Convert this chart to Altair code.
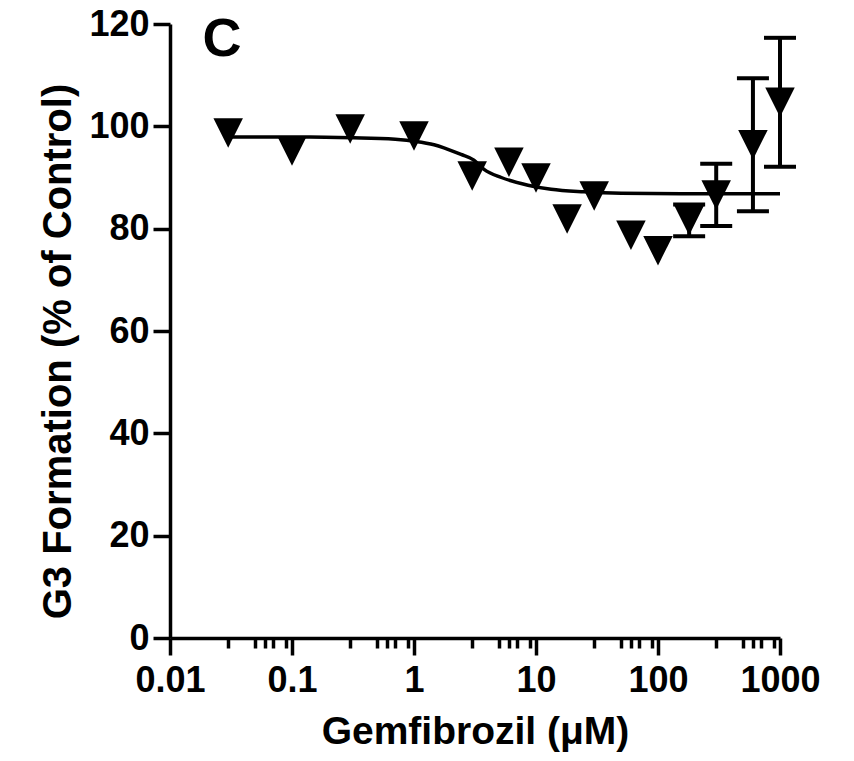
import altair as alt
import pandas as pd

conc = [0.03, 0.1, 0.3, 1, 3, 6, 10, 18, 30, 60, 100, 180, 300, 600, 1000]
resp = [98.7, 95.2, 99.5, 98.1, 90.3, 93.0, 89.9, 81.9, 86.4, 78.7, 75.7, 81.6, 86.6, 96.4, 104.7]
err = [0, 0, 0, 0, 0, 0, 0, 0, 0, 0, 0, 3.1, 6.1, 13.0, 12.6]

# Fitted curve
curve_x = [0.03, 0.14, 0.37, 0.78, 1.0, 1.46, 1.76, 2.43, 3.1, 3.75, 5.2, 8.6, 13.3, 24.7, 50, 155, 1000]
curve_y = [97.9, 97.9, 97.7, 97.4, 97.1, 96.4, 95.8, 94.5, 93.4, 91.6, 90.0, 88.5, 87.7, 87.2, 86.9, 86.8, 86.8]

x_major = [0.01, 0.1, 1, 10, 100, 1000]
x_minor_mult = [3, 5, 6, 7, 9]
x_ticks = sorted(x_major + [m * d for d in x_major[:-1] for m in x_minor_mult])
y_ticks = [0, 20, 40, 60, 80, 100, 120]

pts = pd.DataFrame({"conc": conc, "resp": resp, "err": err})
pts["lo"] = pts["resp"] - pts["err"]
pts["hi"] = pts["resp"] + pts["err"]
eb = pts[pts["err"] > 0]
curve = pd.DataFrame({"conc": curve_x, "resp": curve_y})

FONT = "Liberation Sans"
major_test = "abs(log(datum.value)/LN10 - round(log(datum.value)/LN10)) < 0.001"

xscale = alt.Scale(type="log", domain=[0.01, 1000], nice=False)
yscale = alt.Scale(domain=[0, 120], nice=False, zero=False)

xaxis = alt.Axis(
    values=x_ticks,
    labelExpr=f"({major_test}) ? format(datum.value, '~g') : ''",
    tickSize={"condition": {"test": major_test, "value": 17}, "value": 10},
    tickWidth=3.5, domainWidth=3.5, domainColor="black", tickColor="black",
    labelFont=FONT, labelFontWeight="bold", labelFontSize=36, labelColor="black",
    labelPadding=8, labelFlush=False, labelOverlap=False,
    title="Gemfibrozil (μM)", titleFont=FONT, titleFontWeight="bold",
    titleFontSize=39, titleColor="black", titlePadding=14, grid=False,
)
yaxis = alt.Axis(
    values=y_ticks, tickSize=17, tickWidth=3.5, domainWidth=3.5,
    domainColor="black", tickColor="black",
    labelFont=FONT, labelFontWeight="bold", labelFontSize=36, labelColor="black",
    labelPadding=4, labelFlush=False,
    title="G3 Formation (% of Control)", titleFont=FONT, titleFontWeight="bold",
    titleFontSize=40, titleColor="black", titlePadding=10, titleY=327, grid=False,
)

line = alt.Chart(curve).mark_line(color="black", strokeWidth=3.5, interpolate="monotone").encode(
    x=alt.X("conc:Q", scale=xscale, axis=xaxis),
    y=alt.Y("resp:Q", scale=yscale, axis=yaxis),
)
rules = alt.Chart(eb).mark_rule(color="black", strokeWidth=4, opacity=1).encode(
    x="conc:Q", y="lo:Q", y2="hi:Q"
)
cap_lo = alt.Chart(eb).mark_tick(color="black", size=32, thickness=4, orient="horizontal", opacity=1).encode(
    x="conc:Q", y="lo:Q"
)
cap_hi = alt.Chart(eb).mark_tick(color="black", size=32, thickness=4, orient="horizontal", opacity=1).encode(
    x="conc:Q", y="hi:Q"
)
points = alt.Chart(pts).mark_point(
    shape="M-1,-1L1,-1L0,1Z", size=870, filled=True, color="black", opacity=1, strokeWidth=0
).encode(x="conc:Q", y="resp:Q")

label = alt.Chart(pd.DataFrame({"t": ["C"]})).mark_text(
    font=FONT, fontWeight="bold", fontSize=54, color="black", baseline="middle", align="center"
).encode(text="t:N", x=alt.value(52), y=alt.value(16))

chart = alt.layer(line, rules, cap_lo, cap_hi, points, label).properties(
    width=610, height=614,
    autosize=alt.AutoSizeParams(type="none"),
    padding={"left": 162, "top": 16, "right": 60, "bottom": 115},
    background="white",
).configure_view(stroke=None)

chart.save("out.html", embed_options={"renderer": "svg", "actions": False})
